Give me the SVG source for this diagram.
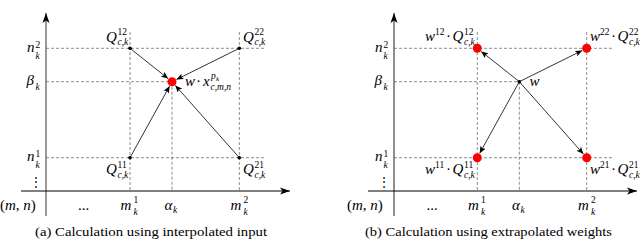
<svg xmlns="http://www.w3.org/2000/svg" width="640" height="241" viewBox="0 0 640 241">
<style>
.dash{stroke:#808080;stroke-width:0.9;stroke-dasharray:3 2;fill:none}
.con{stroke:#000;stroke-width:0.8;fill:none;marker-end:url(#ah)}
.ax{stroke:#000;stroke-width:1;fill:none;marker-end:url(#axh)}
.red{fill:#ff0000}
</style>
<defs>
<marker id="ah" markerUnits="userSpaceOnUse" markerWidth="8" markerHeight="6" refX="7" refY="3" orient="auto">
<path d="M0,0 L7,3 L0,6 L1.5,3 Z" fill="#000"/>
</marker>
<marker id="axh" markerUnits="userSpaceOnUse" markerWidth="11" markerHeight="8" refX="10" refY="4" orient="auto">
<path d="M0,0.5 L10,4 L0,7.5 L2.5,4 Z" fill="#000"/>
</marker>
</defs>
<g id="panel-a">
<g id="a-grid">
<line class="dash" x1="46" y1="48.3" x2="265" y2="48.3"/>
<line class="dash" x1="46" y1="81.7" x2="172" y2="81.7"/>
<line class="dash" x1="46" y1="157.7" x2="265" y2="157.7"/>
<line class="dash" x1="130" y1="32" x2="130" y2="191"/>
<line class="dash" x1="172" y1="81.7" x2="172" y2="191"/>
<line class="dash" x1="239.3" y1="32" x2="239.3" y2="191"/>
</g>
<g id="a-axes">
<line x1="46" y1="216" x2="46" y2="13" stroke="#6e6e6e" stroke-width="1.4" marker-end="url(#axh)"/>
<line class="ax" x1="21" y1="191" x2="290" y2="191"/>
</g>
<g id="a-connectors">
<line class="con" x1="130" y1="48.3" x2="168.1" y2="78.6"/>
<line class="con" x1="239.3" y1="48.3" x2="176.5" y2="79.5"/>
<line class="con" x1="130" y1="157.7" x2="169.6" y2="86.1"/>
<line class="con" x1="239.3" y1="157.7" x2="175.3" y2="85.4"/>
</g>
<g id="a-Q12">
<circle cx="130" cy="48.3" r="1.8"/>
<text font-family="Liberation Serif, serif" font-style="italic" font-size="15"><tspan x="106" y="41.5">Q</tspan><tspan font-size="9.5" font-style="normal" x="117.5" y="35">12</tspan><tspan font-size="9.5" x="117.5" y="45">c,k</tspan></text>
</g>
<g id="a-Q22">
<circle cx="239.3" cy="48.3" r="1.8"/>
<text font-family="Liberation Serif, serif" font-style="italic" font-size="15"><tspan x="243" y="41.5">Q</tspan><tspan font-size="9.5" font-style="normal" x="254.5" y="35">22</tspan><tspan font-size="9.5" x="254.5" y="45">c,k</tspan></text>
</g>
<g id="a-Q11">
<circle cx="130" cy="157.7" r="1.8"/>
<text font-family="Liberation Serif, serif" font-style="italic" font-size="15"><tspan x="106" y="174">Q</tspan><tspan font-size="9.5" font-style="normal" x="117.5" y="167.5">11</tspan><tspan font-size="9.5" x="117.5" y="177.5">c,k</tspan></text>
</g>
<g id="a-Q21">
<circle cx="239.3" cy="157.7" r="1.8"/>
<text font-family="Liberation Serif, serif" font-style="italic" font-size="15"><tspan x="243" y="174">Q</tspan><tspan font-size="9.5" font-style="normal" x="254.5" y="167.5">21</tspan><tspan font-size="9.5" x="254.5" y="177.5">c,k</tspan></text>
</g>
<g id="a-target">
<circle class="red" cx="172" cy="81.7" r="4.5"/>
<text font-family="Liberation Serif, serif" font-style="italic" font-size="15"><tspan x="185" y="86">w</tspan><tspan font-style="normal" x="196" y="86">·</tspan><tspan x="203" y="86">x</tspan><tspan font-size="9.5" x="211" y="79">p</tspan><tspan font-size="7" x="216" y="81">k</tspan><tspan font-size="9.5" x="210.5" y="89.5">c,m,n</tspan></text>
</g>
<g id="a-labels">
<text font-family="Liberation Serif, serif" font-style="italic" font-size="15"><tspan x="27" y="51.7">n</tspan><tspan font-size="9.5" font-style="normal" x="35.5" y="47.7">2</tspan><tspan font-size="9.5" x="35.5" y="58.5">k</tspan></text>
<text font-family="Liberation Serif, serif" font-style="italic" font-size="15"><tspan x="26.5" y="85">β</tspan><tspan font-size="9.5" x="35.5" y="89.5">k</tspan></text>
<text font-family="Liberation Serif, serif" font-style="italic" font-size="15"><tspan x="27" y="161">n</tspan><tspan font-size="9.5" font-style="normal" x="35.5" y="157">1</tspan><tspan font-size="9.5" x="35.5" y="167.5">k</tspan></text>
<text x="35.5" y="186" text-anchor="middle" font-size="12" font-family="Liberation Serif, serif">⋮</text>
<text font-family="Liberation Serif, serif" font-style="italic" font-size="15"><tspan font-style="normal" x="0" y="210">(</tspan><tspan>m</tspan><tspan font-style="normal">, </tspan><tspan>n</tspan><tspan font-style="normal">)</tspan></text>
<text x="78" y="210" font-family="Liberation Serif, serif" font-size="15">...</text>
<text font-family="Liberation Serif, serif" font-style="italic" font-size="15"><tspan x="120.5" y="209.5">m</tspan><tspan font-size="9.5" font-style="normal" x="133.5" y="203">1</tspan><tspan font-size="9.5" x="133.5" y="214.5">k</tspan></text>
<text font-family="Liberation Serif, serif" font-style="italic" font-size="15"><tspan x="164.5" y="209.5">α</tspan><tspan font-size="9.5" x="173" y="213">k</tspan></text>
<text font-family="Liberation Serif, serif" font-style="italic" font-size="15"><tspan x="230.5" y="209.5">m</tspan><tspan font-size="9.5" font-style="normal" x="243.5" y="203">2</tspan><tspan font-size="9.5" x="243.5" y="214.5">k</tspan></text>
<text font-family="Liberation Serif, serif" font-size="12.5" x="151" y="236" text-anchor="middle" textLength="232" lengthAdjust="spacingAndGlyphs">(a) Calculation using interpolated input</text>
</g>
</g>
<g id="panel-b">
<g id="b-grid">
<line class="dash" x1="394" y1="48.3" x2="613" y2="48.3"/>
<line class="dash" x1="394" y1="81.7" x2="519.3" y2="81.7"/>
<line class="dash" x1="394" y1="157.7" x2="613" y2="157.7"/>
<line class="dash" x1="477.3" y1="32" x2="477.3" y2="191"/>
<line class="dash" x1="519.3" y1="81.7" x2="519.3" y2="191"/>
<line class="dash" x1="586.7" y1="32" x2="586.7" y2="191"/>
</g>
<g id="b-axes">
<line x1="394" y1="216" x2="394" y2="13" stroke="#333" stroke-width="1.1" marker-end="url(#axh)"/>
<line class="ax" x1="368" y1="191" x2="637" y2="191"/>
</g>
<g id="b-connectors">
<line class="con" x1="519.3" y1="81.7" x2="481.2" y2="51.4"/>
<line class="con" x1="519.3" y1="81.7" x2="582.2" y2="50.5"/>
<line class="con" x1="519.3" y1="81.7" x2="479.7" y2="153.3"/>
<line class="con" x1="519.3" y1="81.7" x2="583.4" y2="154.0"/>
</g>
<g id="b-source">
<circle cx="519.3" cy="81.7" r="1.8"/>
<text x="529.5" y="86" font-family="Liberation Serif, serif" font-style="italic" font-size="15">w</text>
</g>
<g id="b-W12">
<circle class="red" cx="477.3" cy="48.3" r="4.5"/>
<text font-family="Liberation Serif, serif" font-style="italic" font-size="15"><tspan x="425" y="41">w</tspan><tspan font-size="9.5" font-style="normal" x="435" y="35">12</tspan><tspan font-style="normal" x="446" y="41">·</tspan><tspan x="452.5" y="41">Q</tspan><tspan font-size="9.5" font-style="normal" x="464" y="35">12</tspan><tspan font-size="9.5" x="464" y="45">c,k</tspan></text>
</g>
<g id="b-W22">
<circle class="red" cx="586.7" cy="48.3" r="4.5"/>
<text font-family="Liberation Serif, serif" font-style="italic" font-size="15"><tspan x="590" y="41">w</tspan><tspan font-size="9.5" font-style="normal" x="600" y="35">22</tspan><tspan font-style="normal" x="611" y="41">·</tspan><tspan x="617.5" y="41">Q</tspan><tspan font-size="9.5" font-style="normal" x="629" y="35">22</tspan><tspan font-size="9.5" x="629" y="45">c,k</tspan></text>
</g>
<g id="b-W11">
<circle class="red" cx="477.3" cy="157.7" r="4.5"/>
<text font-family="Liberation Serif, serif" font-style="italic" font-size="15"><tspan x="425" y="174">w</tspan><tspan font-size="9.5" font-style="normal" x="435" y="168">11</tspan><tspan font-style="normal" x="446" y="174">·</tspan><tspan x="452.5" y="174">Q</tspan><tspan font-size="9.5" font-style="normal" x="464" y="167.5">11</tspan><tspan font-size="9.5" x="464" y="177.5">c,k</tspan></text>
</g>
<g id="b-W21">
<circle class="red" cx="586.7" cy="157.7" r="4.5"/>
<text font-family="Liberation Serif, serif" font-style="italic" font-size="15"><tspan x="590" y="174">w</tspan><tspan font-size="9.5" font-style="normal" x="600" y="168">21</tspan><tspan font-style="normal" x="611" y="174">·</tspan><tspan x="617.5" y="174">Q</tspan><tspan font-size="9.5" font-style="normal" x="629" y="167.5">21</tspan><tspan font-size="9.5" x="629" y="177.5">c,k</tspan></text>
</g>
<g id="b-labels">
<text font-family="Liberation Serif, serif" font-style="italic" font-size="15"><tspan x="375" y="51.7">n</tspan><tspan font-size="9.5" font-style="normal" x="383.5" y="47.7">2</tspan><tspan font-size="9.5" x="383.5" y="58.5">k</tspan></text>
<text font-family="Liberation Serif, serif" font-style="italic" font-size="15"><tspan x="374.5" y="85">β</tspan><tspan font-size="9.5" x="383.5" y="89.5">k</tspan></text>
<text font-family="Liberation Serif, serif" font-style="italic" font-size="15"><tspan x="375" y="161">n</tspan><tspan font-size="9.5" font-style="normal" x="383.5" y="157">1</tspan><tspan font-size="9.5" x="383.5" y="167.5">k</tspan></text>
<text x="383.5" y="186" text-anchor="middle" font-size="12" font-family="Liberation Serif, serif">⋮</text>
<text font-family="Liberation Serif, serif" font-style="italic" font-size="15"><tspan font-style="normal" x="347" y="210">(</tspan><tspan>m</tspan><tspan font-style="normal">, </tspan><tspan>n</tspan><tspan font-style="normal">)</tspan></text>
<text x="426.5" y="210" font-family="Liberation Serif, serif" font-size="15">...</text>
<text font-family="Liberation Serif, serif" font-style="italic" font-size="15"><tspan x="468" y="209.5">m</tspan><tspan font-size="9.5" font-style="normal" x="481" y="203">1</tspan><tspan font-size="9.5" x="481" y="214.5">k</tspan></text>
<text font-family="Liberation Serif, serif" font-style="italic" font-size="15"><tspan x="512" y="209.5">α</tspan><tspan font-size="9.5" x="520.5" y="213">k</tspan></text>
<text font-family="Liberation Serif, serif" font-style="italic" font-size="15"><tspan x="578" y="209.5">m</tspan><tspan font-size="9.5" font-style="normal" x="591" y="203">2</tspan><tspan font-size="9.5" x="591" y="214.5">k</tspan></text>
<text font-family="Liberation Serif, serif" font-size="12.5" x="488.5" y="236" text-anchor="middle" textLength="247" lengthAdjust="spacingAndGlyphs">(b) Calculation using extrapolated weights</text>
</g>
</g>
</svg>
